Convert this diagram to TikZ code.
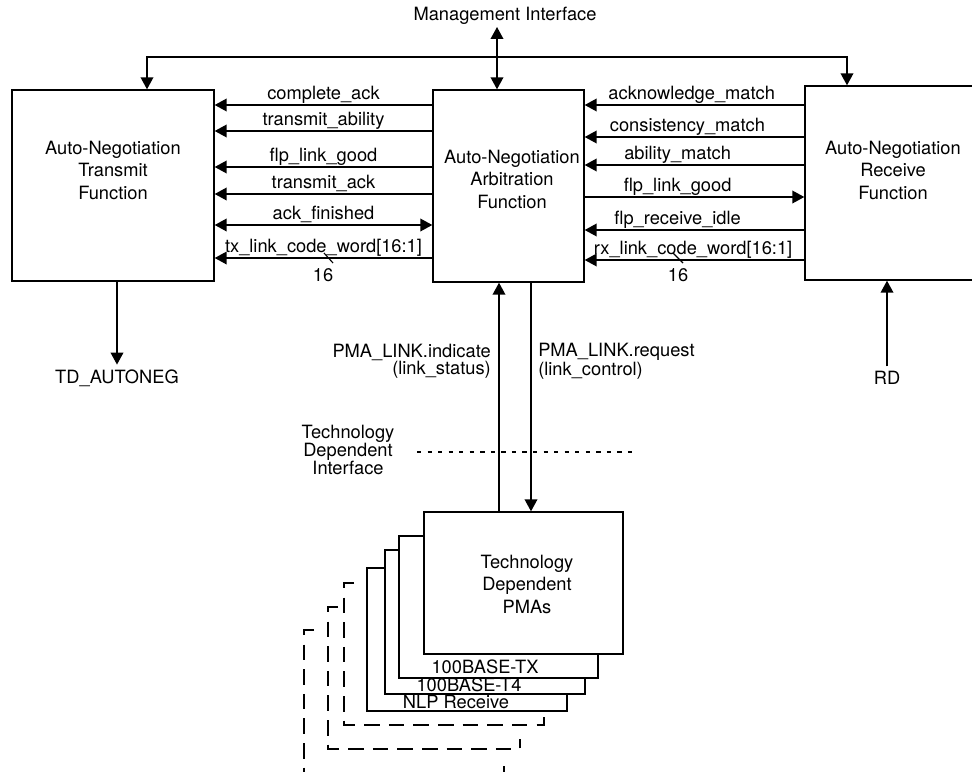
\documentclass[tikz,border=0pt]{standalone}
\usepackage{fontspec}
\setmainfont{TeX Gyre Heros}
\usetikzlibrary{arrows.meta,fit}

\tikzset{
  fnbox/.style={draw, line width=1pt, fill=white, inner sep=0pt},
  pmabox/.style={draw, line width=1pt, fill=white, inner sep=0pt},
  ghostbox/.style={line width=1pt, dash pattern=on 11pt off 6.5pt},
  sig/.style={line width=1pt, -{Triangle[length=8.5pt,width=9pt]}},
  sigboth/.style={line width=1pt, {Triangle[length=8.5pt,width=9pt]}-{Triangle[length=8.5pt,width=9pt]}},
  siglabel/.style={anchor=base, inner sep=0pt, yshift=4pt},
  tdiline/.style={line width=0.8pt, dash pattern=on 3pt off 4.5pt},
}

\begin{document}
\begin{tikzpicture}[x=0.025cm, y=-0.025cm, font=\fontsize{13}{16}\selectfont]
  \useasboundingbox (0,0) rectangle (972,771);
  \clip (0,0) rectangle (972,771);

  % the three function blocks
  \node[fnbox, fit={(12,90) (214,281)}] (tx) {};
  \node[fnbox, fit={(433,90) (584,282)}] (arb) {};
  \node[fnbox, fit={(805,86) (981,280)}] (rx) {};
  \node[align=center] (txname) at (113,170) {Auto-Negotiation\\Transmit\\Function};
  \node[align=center] (arbname) at (512,179) {Auto-Negotiation\\Arbitration\\Function};
  \node[align=center] (rxname) at (893,170) {Auto-Negotiation\\Receive\\Function};

  % management interface
  \node (mgmt) at (505,16) {Management Interface};
  \coordinate (mgmtend) at (497,27);
  \coordinate (busl) at (147,57);
  \coordinate (busr) at (847,57);
  \draw[sigboth] (mgmtend) -- (mgmtend |- arb.north);
  \draw[sigboth] (busl |- tx.north) -- (busl) -- (busr) -- (busr |- rx.north);

  % arbitration -> transmit
  \foreach \y/\lbl [count=\i] in {105/complete\_ack, 131/transmit\_ability,
      167/flp\_link\_good, 194/transmit\_ack, 258/tx\_link\_code\_word[16:1]}
    \draw[sig] (arb.west |- 0,\y) -- node[siglabel] (tl\i) {\lbl} (tx.east |- 0,\y);
  \draw[sigboth] (tx.east |- 0,225) -- node[siglabel] (tl6) {ack\_finished} (arb.west |- 0,225);

  % receive -> arbitration
  \foreach \y/\dx/\lbl [count=\i] in {105/-2/acknowledge\_match, 137/-5/consistency\_match,
      165/-12/ability\_match, 230/-12/flp\_receive\_idle, 260/-1/rx\_link\_code\_word[16:1]}
    \draw[sig] (rx.west |- 0,\y) -- node[siglabel, xshift=\dx pt] (rl\i) {\lbl} (arb.east |- 0,\y);
  \draw[sig] (arb.east |- 0,197) -- node[siglabel, xshift=-12pt] (rl6) {flp\_link\_good} (rx.west |- 0,197);

  % bus width marks
  \draw[line width=0.8pt] (324,253) -- (333,263);
  \node (txwidth) at (323,275) {16};
  \draw[line width=0.8pt] (673,253) -- (683,263);
  \node (rxwidth) at (678,275) {16};

  % TD and RD
  \node (tdout) at (117,378) {TD\_AUTONEG};
  \draw[sig] (tdout |- tx.south) -- (tdout.north);
  \node (rdin) at (887,378) {RD};
  \draw[sig] (rdin.north) -- (rdin |- rx.south);

  % technology dependent interface
  \node[align=center, font=\fontsize{13}{12.8}\selectfont] (tdilbl) at (348,450) {Technology\\Dependent\\Interface};
  \draw[tdiline] (417,452) -- (638,452);

  % stacked PMAs
  \foreach \xa/\ya/\xb/\yb in {304/630/504/773, 328/607/520/749, 344/583/544/725}
    \draw[ghostbox] (\xa+10,\ya) -- (\xa,\ya) -- (\xa,\yb) -- (\xb,\yb) -- (\xb,\yb-10);
  \node[pmabox, fit={(367,568) (567,711)}] (nlp) {};
  \node[pmabox, fit={(385,550) (585,694)}] (tfour) {};
  \node[pmabox, fit={(399,536) (598,678)}] (ttx) {};
  \node[pmabox, fit={(424,512) (623,654)}] (pma) {};
  \node (nlplbl) at (456,702) {NLP Receive};
  \node (tfourlbl) at (469,685) {100BASE-T4};
  \node (ttxlbl) at (485,667) {100BASE-TX};
  \node[align=center] (pmaname) at (527,584) {Technology\\Dependent\\PMAs};

  % PMA_LINK primitives
  \coordinate (indx) at (499,0);
  \coordinate (reqx) at (531,0);
  \draw[sig] (indx |- pma.north) -- (indx |- arb.south);
  \draw[sig] (reqx |- arb.south) -- (reqx |- pma.north);
  \node[anchor=east, align=right, inner sep=0pt, font=\fontsize{13}{12}\selectfont] (indlbl) at (491,361) {PMA\_LINK.indicate\\(link\_status)};
  \node[anchor=west, align=left, inner sep=0pt, font=\fontsize{13}{12}\selectfont] (reqlbl) at (538,361) {PMA\_LINK.request\\(link\_control)};
\end{tikzpicture}
\end{document}
